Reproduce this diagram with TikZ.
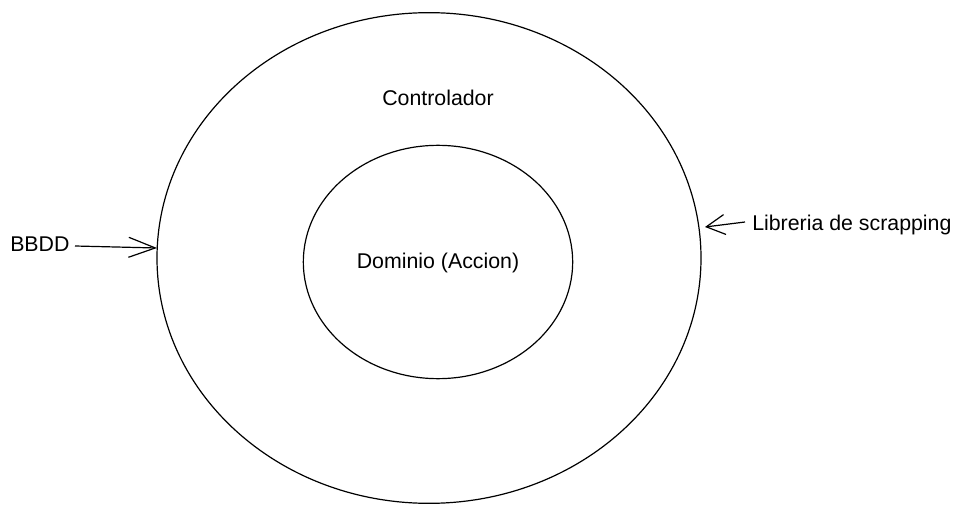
\documentclass[tikz,border=0pt]{standalone}
\usepackage{fontspec}
\setmainfont{Liberation Sans}
\usetikzlibrary{shapes.geometric,arrows.meta}
\begin{document}
\begin{tikzpicture}[x=0.75pt,y=-0.75pt,
  ring/.style={ellipse,draw,line width=0.9pt,inner sep=0pt},
  lbl/.style={font=\fontsize{16}{18}\selectfont,inner sep=0pt},
  arr/.style={line width=0.9pt,-{Straight Barb[length=#1,width=15pt,line width=0.9pt]}}]
\useasboundingbox (0,0) rectangle (964,513);
\node[ring,minimum width=408pt,minimum height=368pt] (outer) at (429,258) {};
\node[ring,minimum width=202pt,minimum height=175pt] (inner) at (438,262) {};
\node[lbl] (ctrl) at (438,98) {Controlador};
\node[lbl] (dom) at (438,263) {Dominio (Accion)};
\node[lbl,anchor=west] (bbdd) at (10,244) {BBDD};
\node[lbl,anchor=west] (lib) at (752,225) {Libreria de scrapping};
\coordinate (bin) at (157,248);
\coordinate (lin) at (705,227);
\coordinate (bout) at (75,246);
\coordinate (lout) at (745,222);
\draw[arr=20pt] (bout) -- (bin);
\draw[arr=14pt] (lout) -- (lin);
\end{tikzpicture}
\end{document}
